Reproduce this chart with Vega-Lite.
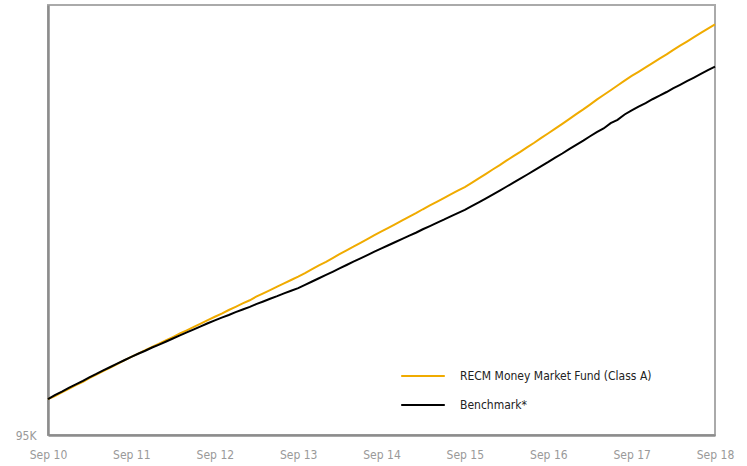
{
  "$schema": "https://vega.github.io/schema/vega-lite/v6.json",
  "width": 667,
  "height": 430,
  "autosize": "none",
  "padding": {"left": 48, "top": 5, "right": 32, "bottom": 31},
  "background": "white",
  "data": {
    "values": [
      {"d": "2010-09-01", "fund": 100.00, "bench": 100.00},
      {"d": "2010-10-01", "fund": 100.42, "bench": 100.55},
      {"d": "2010-11-01", "fund": 100.94, "bench": 101.05},
      {"d": "2010-12-01", "fund": 101.42, "bench": 101.57},
      {"d": "2011-01-01", "fund": 101.97, "bench": 102.05},
      {"d": "2011-02-01", "fund": 102.42, "bench": 102.55},
      {"d": "2011-03-01", "fund": 102.92, "bench": 103.04},
      {"d": "2011-04-01", "fund": 103.44, "bench": 103.52},
      {"d": "2011-05-01", "fund": 103.90, "bench": 104.02},
      {"d": "2011-06-01", "fund": 104.40, "bench": 104.49},
      {"d": "2011-07-01", "fund": 104.88, "bench": 104.95},
      {"d": "2011-08-01", "fund": 105.41, "bench": 105.43},
      {"d": "2011-09-01", "fund": 105.90, "bench": 105.90},
      {"d": "2011-10-01", "fund": 106.35, "bench": 106.34},
      {"d": "2011-11-01", "fund": 106.84, "bench": 106.76},
      {"d": "2011-12-01", "fund": 107.28, "bench": 107.21},
      {"d": "2012-01-01", "fund": 107.76, "bench": 107.62},
      {"d": "2012-02-01", "fund": 108.22, "bench": 108.05},
      {"d": "2012-03-01", "fund": 108.67, "bench": 108.47},
      {"d": "2012-04-01", "fund": 109.17, "bench": 108.91},
      {"d": "2012-05-01", "fund": 109.61, "bench": 109.31},
      {"d": "2012-06-01", "fund": 110.08, "bench": 109.74},
      {"d": "2012-07-01", "fund": 110.54, "bench": 110.16},
      {"d": "2012-08-01", "fund": 111.02, "bench": 110.59},
      {"d": "2012-09-01", "fund": 111.50, "bench": 111.00},
      {"d": "2012-10-01", "fund": 111.94, "bench": 111.38},
      {"d": "2012-11-01", "fund": 112.44, "bench": 111.74},
      {"d": "2012-12-01", "fund": 112.89, "bench": 112.14},
      {"d": "2013-01-01", "fund": 113.37, "bench": 112.51},
      {"d": "2013-02-01", "fund": 113.80, "bench": 112.87},
      {"d": "2013-03-01", "fund": 114.30, "bench": 113.26},
      {"d": "2013-04-01", "fund": 114.77, "bench": 113.63},
      {"d": "2013-05-01", "fund": 115.22, "bench": 114.01},
      {"d": "2013-06-01", "fund": 115.71, "bench": 114.37},
      {"d": "2013-07-01", "fund": 116.15, "bench": 114.76},
      {"d": "2013-08-01", "fund": 116.63, "bench": 115.13},
      {"d": "2013-09-01", "fund": 117.10, "bench": 115.50},
      {"d": "2013-10-01", "fund": 117.60, "bench": 115.94},
      {"d": "2013-11-01", "fund": 118.15, "bench": 116.42},
      {"d": "2013-12-01", "fund": 118.67, "bench": 116.87},
      {"d": "2014-01-01", "fund": 119.17, "bench": 117.33},
      {"d": "2014-02-01", "fund": 119.73, "bench": 117.80},
      {"d": "2014-03-01", "fund": 120.24, "bench": 118.24},
      {"d": "2014-04-01", "fund": 120.77, "bench": 118.72},
      {"d": "2014-05-01", "fund": 121.27, "bench": 119.18},
      {"d": "2014-06-01", "fund": 121.82, "bench": 119.65},
      {"d": "2014-07-01", "fund": 122.34, "bench": 120.10},
      {"d": "2014-08-01", "fund": 122.88, "bench": 120.58},
      {"d": "2014-09-01", "fund": 123.40, "bench": 121.05},
      {"d": "2014-10-01", "fund": 123.90, "bench": 121.48},
      {"d": "2014-11-01", "fund": 124.43, "bench": 121.93},
      {"d": "2014-12-01", "fund": 124.94, "bench": 122.37},
      {"d": "2015-01-01", "fund": 125.48, "bench": 122.83},
      {"d": "2015-02-01", "fund": 125.98, "bench": 123.26},
      {"d": "2015-03-01", "fund": 126.50, "bench": 123.71},
      {"d": "2015-04-01", "fund": 127.03, "bench": 124.15},
      {"d": "2015-05-01", "fund": 127.53, "bench": 124.60},
      {"d": "2015-06-01", "fund": 128.05, "bench": 125.04},
      {"d": "2015-07-01", "fund": 128.56, "bench": 125.50},
      {"d": "2015-08-01", "fund": 129.09, "bench": 125.95},
      {"d": "2015-09-01", "fund": 129.60, "bench": 126.40},
      {"d": "2015-10-01", "fund": 130.18, "bench": 126.92},
      {"d": "2015-11-01", "fund": 130.80, "bench": 127.46},
      {"d": "2015-12-01", "fund": 131.40, "bench": 127.99},
      {"d": "2016-01-01", "fund": 132.05, "bench": 128.55},
      {"d": "2016-02-01", "fund": 132.65, "bench": 129.10},
      {"d": "2016-03-01", "fund": 133.28, "bench": 129.64},
      {"d": "2016-04-01", "fund": 133.90, "bench": 130.21},
      {"d": "2016-05-01", "fund": 134.50, "bench": 130.77},
      {"d": "2016-06-01", "fund": 135.16, "bench": 131.35},
      {"d": "2016-07-01", "fund": 135.78, "bench": 131.92},
      {"d": "2016-08-01", "fund": 136.46, "bench": 132.51},
      {"d": "2016-09-01", "fund": 137.10, "bench": 133.10},
      {"d": "2016-10-01", "fund": 137.74, "bench": 133.70},
      {"d": "2016-11-01", "fund": 138.42, "bench": 134.28},
      {"d": "2016-12-01", "fund": 139.07, "bench": 134.89},
      {"d": "2017-01-01", "fund": 139.77, "bench": 135.48},
      {"d": "2017-02-01", "fund": 140.43, "bench": 136.08},
      {"d": "2017-03-01", "fund": 141.07, "bench": 136.65},
      {"d": "2017-04-01", "fund": 141.79, "bench": 137.27},
      {"d": "2017-05-01", "fund": 142.44, "bench": 137.77},
      {"d": "2017-06-01", "fund": 143.11, "bench": 138.52},
      {"d": "2017-07-01", "fund": 143.77, "bench": 138.97},
      {"d": "2017-08-01", "fund": 144.45, "bench": 139.72},
      {"d": "2017-09-01", "fund": 145.10, "bench": 140.30},
      {"d": "2017-10-01", "fund": 145.68, "bench": 140.82},
      {"d": "2017-11-01", "fund": 146.30, "bench": 141.32},
      {"d": "2017-12-01", "fund": 146.90, "bench": 141.85},
      {"d": "2018-01-01", "fund": 147.53, "bench": 142.34},
      {"d": "2018-02-01", "fund": 148.10, "bench": 142.86},
      {"d": "2018-03-01", "fund": 148.70, "bench": 143.36},
      {"d": "2018-04-01", "fund": 149.32, "bench": 143.87},
      {"d": "2018-05-01", "fund": 149.90, "bench": 144.39},
      {"d": "2018-06-01", "fund": 150.51, "bench": 144.88},
      {"d": "2018-07-01", "fund": 151.11, "bench": 145.38},
      {"d": "2018-08-01", "fund": 151.71, "bench": 145.91},
      {"d": "2018-09-01", "fund": 152.30, "bench": 146.40}
    ]
  },
  "transform": [
    {"fold": ["fund", "bench"], "as": ["key", "k"]},
    {"lookup": "key", "from": {"data": {"values": [
      {"key": "fund", "series": "RECM Money Market Fund (Class A)"},
      {"key": "bench", "series": "Benchmark*"}
    ]}, "key": "key", "fields": ["series"]}}
  ],
  "mark": {"type": "line", "strokeWidth": 2, "interpolate": "linear"},
  "encoding": {
    "x": {
      "field": "d",
      "type": "temporal",
      "scale": {"domain": ["2010-09-01", "2018-09-01"], "nice": false},
      "axis": {
        "title": null,
        "values": ["2010-09-01", "2011-09-01", "2012-09-01", "2013-09-01", "2014-09-01", "2015-09-01", "2016-09-01", "2017-09-01", "2018-09-01"],
        "format": "%b %y",
        "grid": false,
        "ticks": false,
        "domainColor": "#8c8c8c",
        "domainWidth": 2.5,
        "labelColor": "#999999",
        "labelFontSize": 12,
        "labelPadding": 14,
        "labelFlush": false
      }
    },
    "y": {
      "field": "k",
      "type": "quantitative",
      "scale": {"domain": [95, 155], "nice": false, "zero": false},
      "axis": {
        "title": null,
        "values": [95],
        "labelExpr": "datum.value + 'K'",
        "grid": false,
        "ticks": false,
        "domainColor": "#8c8c8c",
        "domainWidth": 2.5,
        "labelColor": "#999999",
        "labelFontSize": 12,
        "labelPadding": 12,
        "labelBaseline": "middle"
      }
    },
    "color": {
      "field": "series",
      "type": "nominal",
      "sort": ["RECM Money Market Fund (Class A)", "Benchmark*"],
      "scale": {"domain": ["RECM Money Market Fund (Class A)", "Benchmark*"], "range": ["#F0AB00", "#000000"]},
      "legend": {
        "title": null,
        "orient": "none",
        "legendX": 352,
        "legendY": 348,
        "symbolType": "stroke",
        "symbolSize": 1900,
        "symbolStrokeWidth": 2,
        "rowPadding": -20,
        "labelOffset": 14,
        "labelFontSize": 12,
        "labelColor": "#222222",
        "labelLimit": 300
      }
    }
  },
  "config": {
    "font": "Liberation Sans Narrow, DejaVu Sans Condensed, sans-serif",
    "view": {"stroke": "#aaaaaa", "strokeWidth": 2}
  }
}
